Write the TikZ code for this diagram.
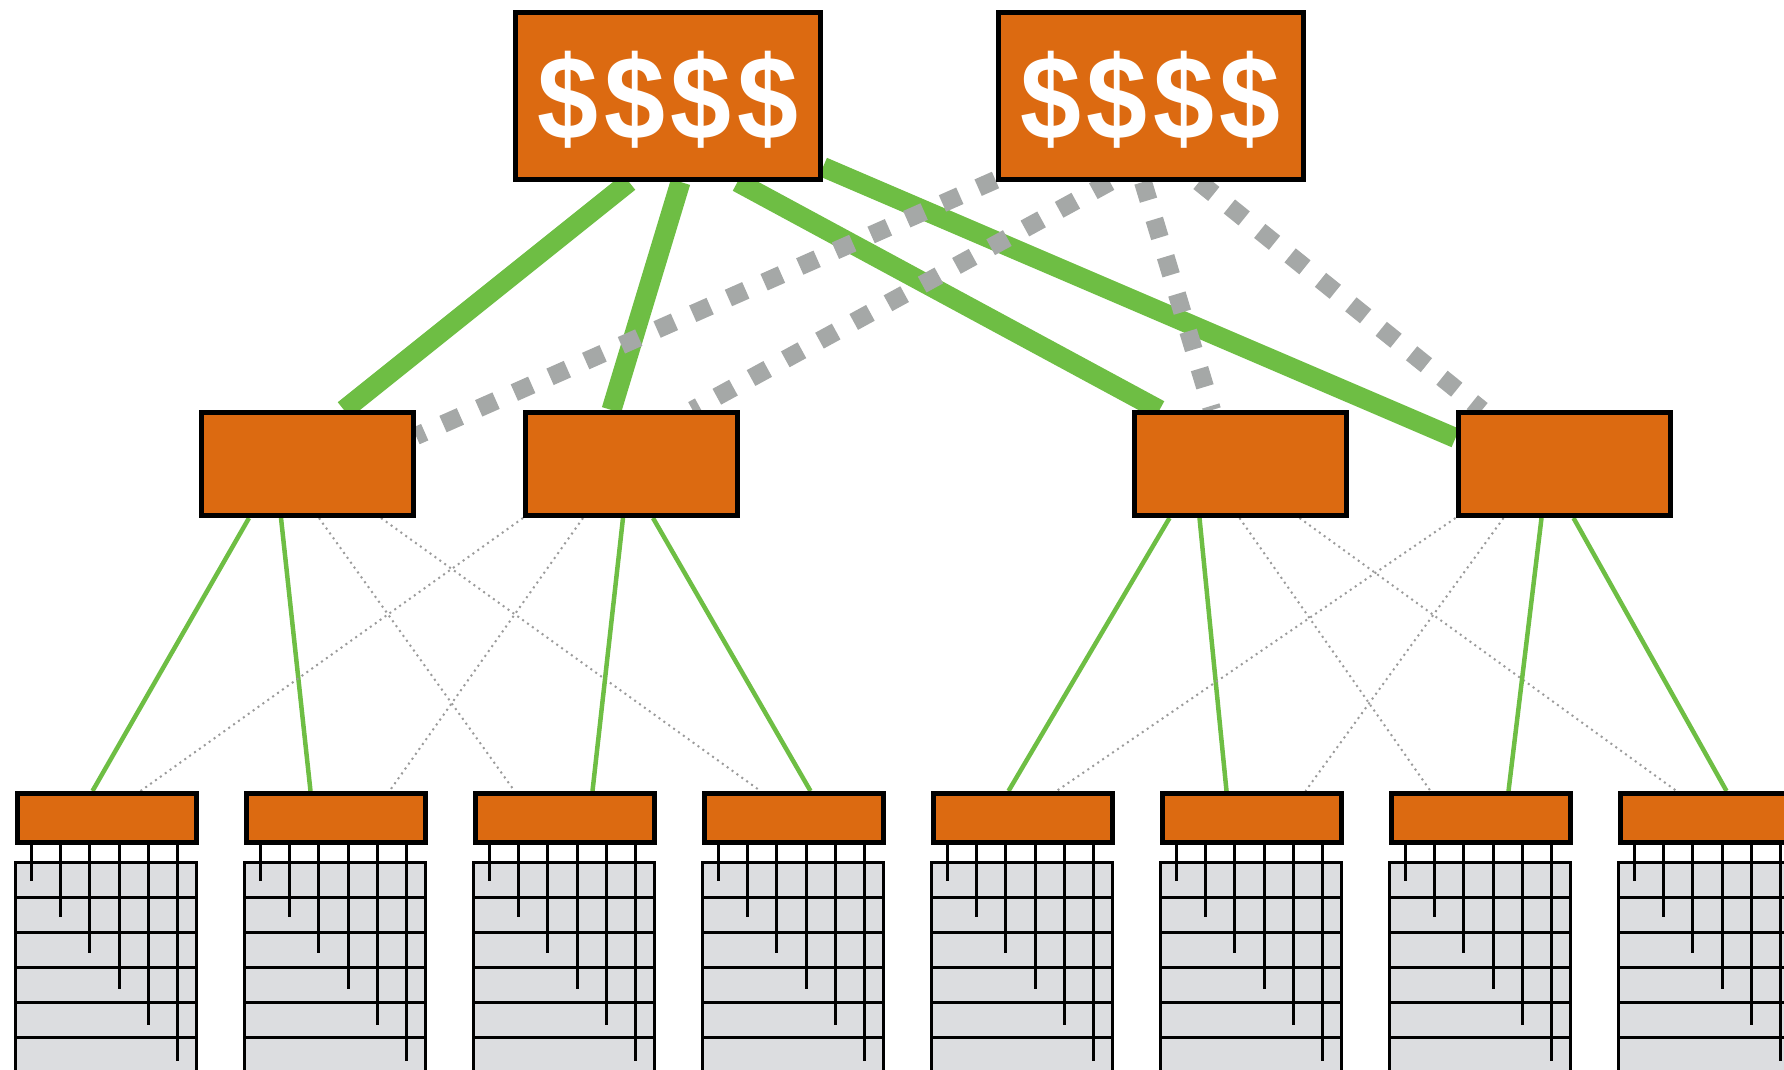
\documentclass[tikz,border=0pt]{standalone}
\usepackage{fontspec}
\setmainfont{Liberation Sans}
\usetikzlibrary{calc}

\definecolor{boxorange}{RGB}{220,106,17}
\definecolor{linkgreen}{RGB}{110,190,68}
\definecolor{linkgray}{RGB}{165,168,167}
\definecolor{dotgray}{RGB}{155,155,155}
\definecolor{rackgray}{RGB}{220,221,224}

\pgfdeclarelayer{background}
\pgfsetlayers{background,main}

\newcommand{\cash}{\raisebox{-3.5pt}[\height][\depth]{\scalebox{0.92}[1]{\$\kern6pt\$\kern6pt\$\kern6pt\$}}}

\tikzset{
  core/.style={draw, line width=5pt, fill=boxorange, minimum width=305pt, minimum height=167pt,
    inner sep=0pt, text=white, font=\bfseries\fontsize{119}{119}\selectfont},
  agg/.style={draw, line width=5pt, fill=boxorange, minimum width=212pt, minimum height=103pt},
  tor/.style={draw, line width=5pt, fill=boxorange, minimum width=179pt, minimum height=49pt},
  uplink/.style={linkgreen, line width=20pt},
  backup/.style={linkgray, line width=18pt, dash pattern=on 19pt off 20pt},
  active/.style={linkgreen, line width=4.5pt},
  standby/.style={dotgray, line width=2pt, dash pattern=on 2pt off 4pt},
  rack/.style={draw, line width=3pt, fill=rackgray},
  wire/.style={line width=3pt}
}

\begin{document}
\begin{tikzpicture}[x=1pt, y=-1pt]
  \useasboundingbox (0,0) rectangle (1784,1069);
  \clip (0,0) rectangle (1784,1069);

  % Draw switches
  \node[core] (T1) at (668, 96) {\cash};
  \node[core] (T2) at (1150.5, 96) {\cash};

  \node[agg] (A) at (307.5, 464) {};
  \node[agg] (B) at (631.5, 464) {};
  \node[agg] (C) at (1240, 464) {};
  \node[agg] (D) at (1564, 464) {};

  \foreach \i in {1,...,8}
    \node[tor] (tor\i) at ({107+229*(\i-1)}, 818) {};

  \begin{pgfonlayer}{background}
    % Draw racks
    \foreach \i in {1,...,8} {
      \draw[rack] ($(tor\i.south west)+(0,17)$) rectangle ($(tor\i.south east)+(-3,227)$);
      \foreach \k in {1,...,5}
        \draw[wire] ($(tor\i.south west)+(0,17+35*\k)$) -- ($(tor\i.south east)+(-3,17+35*\k)$);
      \foreach \k in {0,...,5}
        \draw[wire] ($(tor\i.south west)+(16.5+29.2*\k,0)$) -- ++(0,36+36*\k);
    }

    % Draw edges
    \draw[uplink] ([xshift=116pt]T1.south west) -- ([xshift=145pt]A.north west);
    \draw[uplink] ([xshift=167.5pt]T1.south west) -- ([xshift=88.5pt]B.north west);
    \draw[uplink] ([xshift=224.5pt]T1.south west) -- ([xshift=28pt]C.north west);
    \draw[uplink] ([yshift=15pt]T1.south east) -- ([yshift=26pt]D.west);

    \draw[backup] ([yshift=2pt]T2.south west) -- ([yshift=28pt]A.east);
    \draw[backup] ([xshift=114.5pt]T2.south west) -- ([xshift=169.5pt]B.north west);
    \draw[backup] ([xshift=147.5pt]T2.south west) -- ([xshift=80.5pt]C.north west);
    \draw[backup] ([xshift=203.5pt]T2.south west) -- ([xshift=26.5pt]D.north west);

    \draw[active] ([xshift=50pt]A.south west) -- ([xshift=77.5pt]tor1.north west);
    \draw[active] ([xshift=82pt]A.south west) -- ([xshift=66.5pt]tor2.north west);
    \draw[standby] ([xshift=120pt]A.south west) -- ([xshift=41.5pt]tor3.north west);
    \draw[standby] ([xshift=182pt]A.south west) -- ([xshift=58.5pt]tor4.north west);
    \draw[standby] (B.south west) -- ([xshift=125.5pt]tor1.north west);
    \draw[standby] ([xshift=60pt]B.south west) -- ([xshift=145.5pt]tor2.north west);
    \draw[active] ([xshift=100pt]B.south west) -- ([xshift=119.5pt]tor3.north west);
    \draw[active] ([xshift=130pt]B.south west) -- ([xshift=108.5pt]tor4.north west);

    \draw[active] ([xshift=38pt]C.south west) -- ([xshift=77.5pt]tor5.north west);
    \draw[active] ([xshift=68pt]C.south west) -- ([xshift=66.5pt]tor6.north west);
    \draw[standby] ([xshift=108pt]C.south west) -- ([xshift=41.5pt]tor7.north west);
    \draw[standby] ([xshift=168pt]C.south west) -- ([xshift=58.5pt]tor8.north west);
    \draw[standby] (D.south west) -- ([xshift=125.5pt]tor5.north west);
    \draw[standby] ([xshift=48pt]D.south west) -- ([xshift=145.5pt]tor6.north west);
    \draw[active] ([xshift=86pt]D.south west) -- ([xshift=119.5pt]tor7.north west);
    \draw[active] ([xshift=118pt]D.south west) -- ([xshift=108.5pt]tor8.north west);
  \end{pgfonlayer}
\end{tikzpicture}
\end{document}
